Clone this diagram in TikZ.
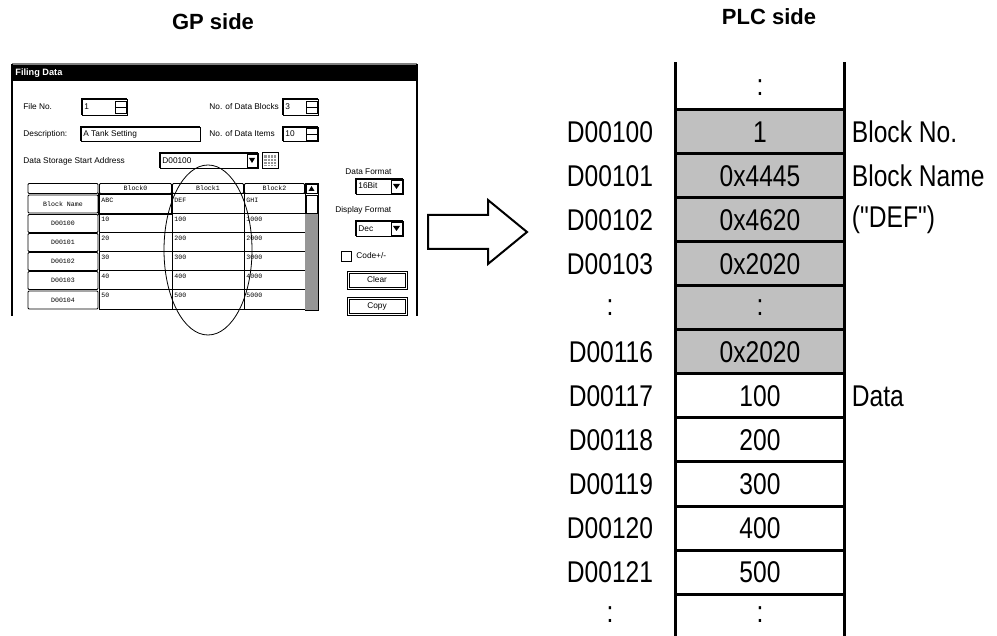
\documentclass[tikz,border=0pt]{standalone}
\usepackage{fontspec}
\setmainfont{Liberation Sans}
\setmonofont{Liberation Mono}
\newfontfamily\narrowfont[FakeStretch=0.82]{Liberation Sans}
\usetikzlibrary{positioning}

\definecolor{plcgray}{RGB}{192,192,192}
\definecolor{dither}{RGB}{150,150,150}

\begin{document}
\begin{tikzpicture}[
    x=0.5pt, y=-0.5pt,
    heading/.style={font=\bfseries\fontsize{11}{13}\selectfont},
    cell/.style={
        draw,
        line width=1.5pt,
        minimum width=84.5pt,
        minimum height=22pt,
        outer sep=0pt,
        inner sep=0pt,
        font=\narrowfont\fontsize{15}{18}\selectfont
    },
    graycell/.style={cell, fill=plcgray},
    addr/.style={inner sep=0pt, font=\narrowfont\fontsize{15}{18}\selectfont},
    note/.style={inner sep=0pt, font=\narrowfont\fontsize{15}{18}\selectfont},
    rule/.style={line width=1.5pt},
    uitext/.style={inner sep=0pt, anchor=west, font=\fontsize{4.15}{5}\selectfont},
    gridtext/.style={inner sep=0pt, anchor=west, font=\ttfamily\fontsize{3.3}{4}\selectfont},
    hdrbtn/.style={
        draw,
        line width=0.4pt,
        rounded corners=0.5pt,
        inner sep=0pt,
        minimum height=5pt,
        font=\ttfamily\fontsize{3.3}{4}\selectfont
    },
    rowbtn/.style={hdrbtn, minimum width=35pt, minimum height=9pt},
    field/.style={draw, line width=0.4pt, fill=white},
    uibtn/.style={draw, line width=0.4pt, fill=white},
    gridline/.style={line width=0.5pt},
    bigarrow/.style={draw, line width=1pt, line join=miter}
]
\useasboundingbox (0,0) rectangle (997,636);

% Headings
\node[heading] (gp) at (213,22) {GP side};
\node[heading] (plc) at (769,17) {PLC side};

% Screen window
\fill[black] (12,64) rectangle (417,81);
\draw[gray, line width=0.6pt] (12,64) -- (417,64);
\draw[line width=0.6pt] (12,64) -- (12,316);
\draw[line width=0.6pt] (417,64) -- (417,316);
\node[uitext, text=white, font=\bfseries\fontsize{4.6}{5}\selectfont] (wtitle) at (15,73) {Filing Data};

% Settings
\node[uitext] (lfile) at (23,107) {File No.};
\draw[field] (82,99) rectangle (127,115);
\draw[line width=0.6pt] (82,115) -- (82,99) -- (127,99);
\node[uitext] (vfile) at (84,107) {1};
\draw[uibtn] (115,101) rectangle (126,113);
\draw[line width=0.3pt] (115,107) -- (126,107);

\node[uitext] (ldesc) at (23,134) {Description:};
\draw[field] (81,127) rectangle (200,141);
\draw[line width=0.6pt] (81,141) -- (81,127) -- (200,127);
\node[uitext] (vdesc) at (83,134) {A Tank Setting};

\node[uitext] (laddr) at (23,161) {Data Storage Start Address};
\draw[field] (160,153) rectangle (258,168);
\draw[line width=0.6pt] (160,168) -- (160,153) -- (258,153);
\node[uitext] (vaddr) at (162,161) {D00100};
\draw[uibtn] (247,154) rectangle (257,167);
\fill (249,158) -- (255,158) -- (252,163) -- cycle;
\draw[uibtn] (262,152) rectangle (278,168);
\fill[dither] (264,155) rectangle (276,166);
\draw[white, line width=0.3pt] (264,158) -- (276,158) (264,161) -- (276,161) (264,164) -- (276,164)
    (267,155) -- (267,166) (270,155) -- (270,166) (273,155) -- (273,166);

\node[uitext] (lblocks) at (209,107) {No. of Data Blocks};
\draw[field] (283,99) rectangle (318,115);
\draw[line width=0.6pt] (283,115) -- (283,99) -- (318,99);
\node[uitext] (vblocks) at (285,107) {3};
\draw[uibtn] (306,101) rectangle (317,113);
\draw[line width=0.3pt] (306,107) -- (317,107);

\node[uitext] (litems) at (209,134) {No. of Data Items};
\draw[field] (283,127) rectangle (318,141);
\draw[line width=0.6pt] (283,141) -- (283,127) -- (318,127);
\node[uitext] (vitems) at (285,134) {10};
\draw[uibtn] (306,128) rectangle (317,140);
\draw[line width=0.3pt] (306,134) -- (317,134);

\node[uitext] (lformat) at (345,172) {Data Format};
\draw[field] (356,179) rectangle (403,194);
\draw[line width=0.6pt] (356,194) -- (356,179) -- (403,179);
\node[uitext] (vformat) at (358,186) {16Bit};
\draw[uibtn] (391,180) rectangle (402,193);
\fill (393,184) -- (400,184) -- (396.5,189) -- cycle;

\node[uitext] (ldisp) at (335,210) {Display Format};
\draw[field] (356,221) rectangle (403,236);
\draw[line width=0.6pt] (356,236) -- (356,221) -- (403,221);
\node[uitext] (vdisp) at (358,228.5) {Dec};
\draw[uibtn] (391,222) rectangle (402,235);
\fill (393,226) -- (400,226) -- (396.5,231) -- cycle;

\draw[field] (341,251) rectangle (351,261);
\node[uitext] (lcode) at (356,256) {Code+/-};

\draw[uibtn] (347,271) rectangle (407,289);
\draw[line width=0.3pt] (349,273) rectangle (405,287);
\node[uitext, anchor=center] (bclear) at (377,280) {Clear};
\draw[uibtn] (347,297) rectangle (407,315);
\draw[line width=0.3pt] (349,299) rectangle (405,313);
\node[uitext, anchor=center] (bcopy) at (377,306) {Copy};

% Data grid
\node[hdrbtn, minimum width=35pt] (h0) at (63,188.5) {};
\node[hdrbtn, minimum width=36pt] (h1) at (135.5,188.5) {Block0};
\node[hdrbtn, minimum width=35.5pt] (h2) at (208,188.5) {Block1};
\node[hdrbtn, minimum width=30pt] (h3) at (274.5,188.5) {Block2};
\node[rowbtn] (r0) at (63,204) {Block Name};
\node[rowbtn] (r1) at (63,223.5) {D00100};
\node[rowbtn] (r2) at (63,242.5) {D00101};
\node[rowbtn] (r3) at (63,261.5) {D00102};
\node[rowbtn] (r4) at (63,280.5) {D00103};
\node[rowbtn] (r5) at (63,300) {D00104};

\draw[gridline] (99,194) rectangle (305,310);
\draw[gridline] (172,194) -- (172,310) (244,194) -- (244,310);
\draw[gridline] (99,214) -- (305,214) (99,233) -- (305,233) (99,252) -- (305,252)
    (99,271) -- (305,271) (99,290) -- (305,290);
\draw[line width=1.2pt] (99,194) rectangle (172,214);

\node[gridtext] (g00) at (101,200) {ABC};
\node[gridtext] (g01) at (174,200) {DEF};
\node[gridtext] (g02) at (246,200) {GHI};
\node[gridtext] (g10) at (101,219) {10};
\node[gridtext] (g11) at (174,219) {100};
\node[gridtext] (g12) at (246,219) {1000};
\node[gridtext] (g20) at (101,238) {20};
\node[gridtext] (g21) at (174,238) {200};
\node[gridtext] (g22) at (246,238) {2000};
\node[gridtext] (g30) at (101,257) {30};
\node[gridtext] (g31) at (174,257) {300};
\node[gridtext] (g32) at (246,257) {3000};
\node[gridtext] (g40) at (101,276) {40};
\node[gridtext] (g41) at (174,276) {400};
\node[gridtext] (g42) at (246,276) {4000};
\node[gridtext] (g50) at (101,295) {50};
\node[gridtext] (g51) at (174,295) {500};
\node[gridtext] (g52) at (246,295) {5000};

% Scroll bar
\draw[field] (305,183) rectangle (318,310);
\fill[dither] (305,214) rectangle (318,310);
\draw[uibtn] (306,184) rectangle (317,193);
\fill (308.5,191) -- (314.5,191) -- (311.5,186) -- cycle;
\draw[uibtn] (306,195) rectangle (317,213);

% Block1 marker
\draw[line width=0.4pt] (208,250) ellipse [x radius=22pt, y radius=42.5pt];

% Transfer arrow
\draw[bigarrow] (428,215) -- (488,215) -- (488,200) -- (527,232) -- (488,264)
    -- (488,249) -- (428,249) -- cycle;

% PLC memory
\node[graycell] (c1) at (760,132) {1};
\node[graycell, below=0pt of c1] (c2) {0x4445};
\node[graycell, below=0pt of c2] (c3) {0x4620};
\node[graycell, below=0pt of c3] (c4) {0x2020};
\node[graycell, below=0pt of c4] (c5) {:};
\node[graycell, below=0pt of c5] (c6) {0x2020};
\node[cell, below=0pt of c6] (c7) {100};
\node[cell, below=0pt of c7] (c8) {200};
\node[cell, below=0pt of c8] (c9) {300};
\node[cell, below=0pt of c9] (c10) {400};
\node[cell, below=0pt of c10] (c11) {500};

\node[addr] (ctop) at (760,88) {:};
\node[addr] (cbot) at (760,615) {:};
\draw[rule] (c1.north west) -- ++(0,-48);
\draw[rule] (c1.north east) -- ++(0,-48);
\draw[rule] (c11.south west) -- ++(0,42);
\draw[rule] (c11.south east) -- ++(0,42);

% Addresses
\node[addr, left=11pt of c1] (a1) {D00100};
\node[addr, left=11pt of c2] (a2) {D00101};
\node[addr, left=11pt of c3] (a3) {D00102};
\node[addr, left=11pt of c4] (a4) {D00103};
\node[addr] (a5) at (a4 |- c5) {:};
\node[addr, left=11pt of c6] (a6) {D00116};
\node[addr, left=11pt of c7] (a7) {D00117};
\node[addr, left=11pt of c8] (a8) {D00118};
\node[addr, left=11pt of c9] (a9) {D00119};
\node[addr, left=11pt of c10] (a10) {D00120};
\node[addr, left=11pt of c11] (a11) {D00121};
\node[addr] (a12) at (a11 |- cbot) {:};

% Meaning
\node[note, right=3.5pt of c1] (n1) {Block No.};
\node[note, right=3.5pt of c2] (n2) {Block Name};
\node[note, right=3.5pt of c3] (n3) {("DEF")};
\node[note, right=3.5pt of c7] (n7) {Data};

\end{tikzpicture}
\end{document}
